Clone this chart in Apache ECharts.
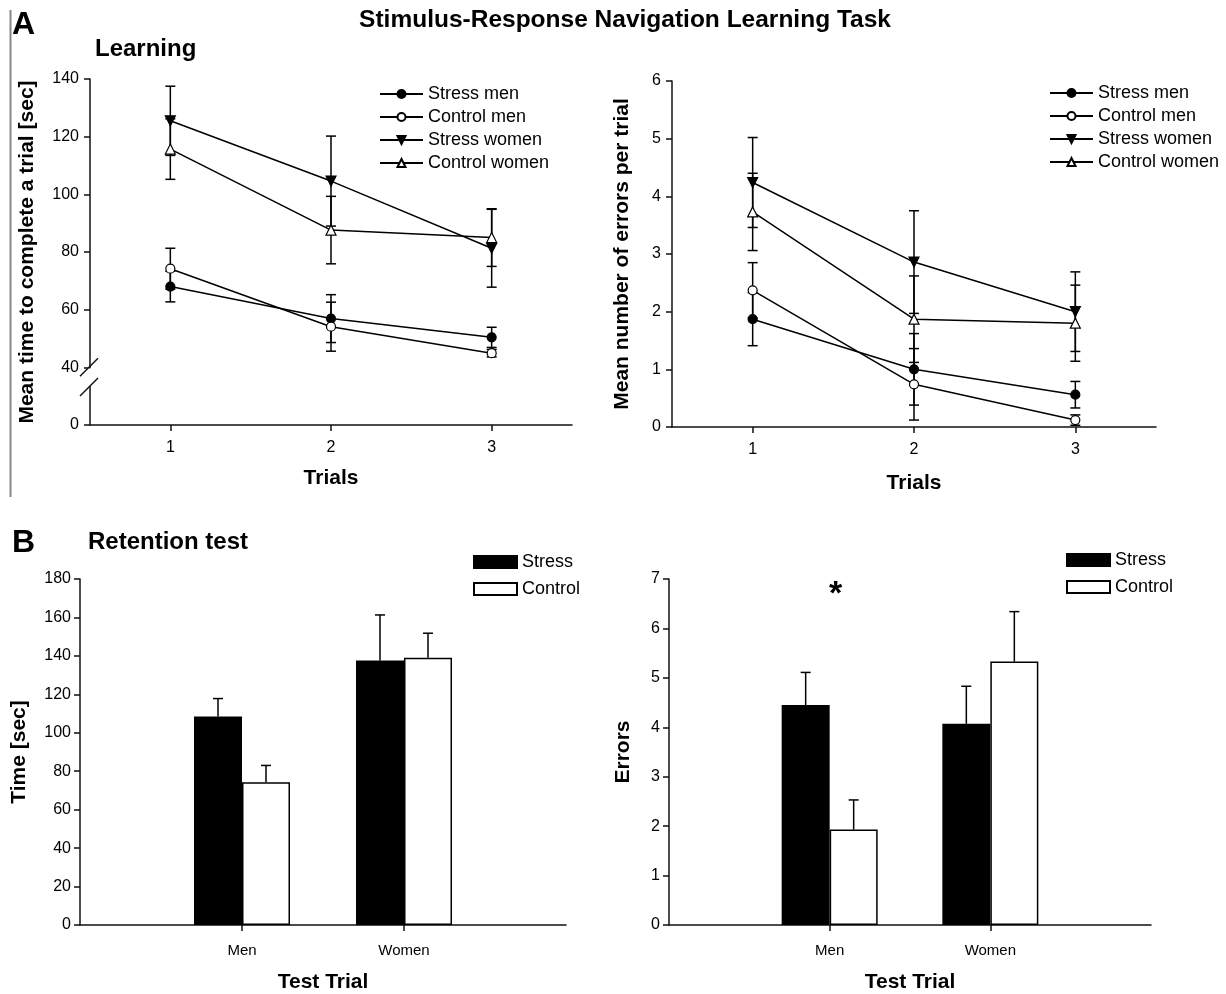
<!DOCTYPE html>
<html><head><meta charset="utf-8">
<script src="https://cdn.jsdelivr.net/npm/echarts@6/dist/echarts.min.js"></script>
<style>html,body{margin:0;padding:0;background:#fff}#c{width:1226px;height:994px}</style>
</head><body><div id="c"></div>
<script>
// ---------- data ----------
const trials = ['1', '2', '3'];
const lineNames = ['Stress men', 'Control men', 'Stress women', 'Control women'];

const timeStressMen = [68.0, 56.9, 50.4];
const timeStressMenErr = [5.3, 8.3, 3.5];
const timeControlMen = [74.2, 54.1, 44.9];
const timeControlMenErr = [7.1, 8.5, 1.3];
const timeStressWomen = [125.5, 104.6, 81.3];
const timeStressWomenErr = [12.0, 15.6, 13.5];
const timeControlWomen = [115.7, 87.6, 85.0];
const timeControlWomenErr = [10.5, 11.7, 10.0];

const errStressMen = [1.87, 1.00, 0.56];
const errStressMenErr = [0.46, 0.62, 0.23];
const errControlMen = [2.37, 0.74, 0.12];
const errControlMenErr = [0.48, 0.62, 0.09];
const errStressWomen = [4.24, 2.86, 2.00];
const errStressWomenErr = [0.78, 0.89, 0.69];
const errControlWomen = [3.73, 1.87, 1.80];
const errControlWomenErr = [0.67, 0.75, 0.66];

const groups = ['Men', 'Women'];
const barNames = ['Stress', 'Control'];
const retTimeStress = [108.5, 137.6];
const retTimeStressErr = [9.3, 23.7];
const retTimeControl = [74.2, 139.0];
const retTimeControlErr = [8.8, 12.8];
const retErrStress = [4.45, 4.07];
const retErrStressErr = [0.66, 0.76];
const retErrControl = [1.93, 5.33];
const retErrControlErr = [0.60, 1.01];
const retErrSignif = [['Men', 6.85]];

// broken time axis: lowest tick stands for 0
const timeTickValues = [20, 40, 60, 80, 100, 120, 140];
const timeTickLabels = ['0', '40', '60', '80', '100', '120', '140'];

// ---------- helpers ----------
const FONT = 'Liberation Sans, Arial, Helvetica, sans-serif';
const padCats = ['', ...groups, ''];
const pad = a => [null, ...a, null];

function lineSeries(name, data, xi, symbol, filled, rotate) {
  return {
    type: 'line', name, xAxisIndex: xi, yAxisIndex: xi, data,
    symbol, symbolSize: symbol === 'circle' ? 9 : 10, symbolRotate: rotate || 0,
    showSymbol: true, z: 4,
    lineStyle: { color: '#000', width: 1.5 },
    itemStyle: { color: filled ? '#000' : '#fff', borderColor: '#000', borderWidth: 1.2 }
  };
}
function errSeries(means, errs, xi, offset, both, idxShift) {
  return {
    type: 'custom', xAxisIndex: xi, yAxisIndex: xi, z: 3, silent: true,
    encode: { x: 0, y: 1 },
    data: means.map((m, i) => [i + idxShift, m, errs[i]]),
    renderItem(params, api) {
      const x = api.value(0), m = api.value(1), e = api.value(2);
      const top = api.coord([x, m + e]);
      const bot = api.coord([x, both ? m - e : m]);
      const cx = top[0] + offset, hw = 5;
      const st = { stroke: '#000', lineWidth: 1.5 };
      const ch = [
        { type: 'line', shape: { x1: cx, y1: top[1], x2: cx, y2: bot[1] }, style: st },
        { type: 'line', shape: { x1: cx - hw, y1: top[1], x2: cx + hw, y2: top[1] }, style: st }
      ];
      if (both) ch.push({ type: 'line', shape: { x1: cx - hw, y1: bot[1], x2: cx + hw, y2: bot[1] }, style: st });
      return { type: 'group', children: ch };
    }
  };
}
function barSeries(name, data, xi, filled) {
  return {
    type: 'bar', name, xAxisIndex: xi, yAxisIndex: xi, data: pad(data),
    barWidth: 48, barGap: '0%', z: 2,
    itemStyle: { color: filled ? '#000' : '#fff', borderColor: '#000', borderWidth: 1.5 }
  };
}

const axisLine = { show: true, lineStyle: { color: '#111', width: 1.5 } };
const axisTick = { show: true, length: 6, lineStyle: { color: '#111', width: 1.5 } };
const nameStyle = { fontSize: 21, fontWeight: 'bold', color: '#000', fontFamily: FONT };
const labStyle = (m, s) => ({ fontSize: s || 16, color: '#000', fontFamily: FONT, margin: m });

const grids = [
  { left: 90, top: 79, width: 482, height: 346 },
  { left: 672, top: 81, width: 484, height: 346 },
  { left: 80, top: 579, width: 486, height: 347 },
  { left: 669, top: 579, width: 482, height: 346 }
];

const xAxes = [
  { gridIndex: 0, type: 'category', data: trials, boundaryGap: true, axisLine, axisTick: { ...axisTick, alignWithLabel: true },
    axisLabel: labStyle(15), name: 'Trials', nameLocation: 'middle', nameGap: 43, nameTextStyle: nameStyle },
  { gridIndex: 1, type: 'category', data: trials, boundaryGap: true, axisLine, axisTick: { ...axisTick, alignWithLabel: true },
    axisLabel: labStyle(15), name: 'Trials', nameLocation: 'middle', nameGap: 46, nameTextStyle: nameStyle },
  { gridIndex: 2, type: 'category', data: padCats, boundaryGap: false, axisLine,
    axisTick: { ...axisTick, interval: (i) => i > 0 && i <= groups.length },
    axisLabel: { ...labStyle(18, 15), interval: 0 }, name: 'Test Trial', nameLocation: 'middle', nameGap: 47, nameTextStyle: nameStyle },
  { gridIndex: 3, type: 'category', data: padCats, boundaryGap: false, axisLine,
    axisTick: { ...axisTick, interval: (i) => i > 0 && i <= groups.length },
    axisLabel: { ...labStyle(18, 15), interval: 0 }, name: 'Test Trial', nameLocation: 'middle', nameGap: 47, nameTextStyle: nameStyle }
];
const yAxes = [
  { gridIndex: 0, type: 'value', min: 20, max: 140, interval: 20, axisLine, axisTick, splitLine: { show: false },
    axisLabel: { ...labStyle(11), formatter: v => { const k = timeTickValues.indexOf(v); return k < 0 ? '' : timeTickLabels[k]; } },
    name: 'Mean time to complete a trial [sec]', nameLocation: 'middle', nameGap: 52, nameTextStyle: nameStyle },
  { gridIndex: 1, type: 'value', min: 0, max: 6, interval: 1, axisLine, axisTick, splitLine: { show: false },
    axisLabel: labStyle(11), name: 'Mean number of errors per trial', nameLocation: 'middle', nameGap: 39, nameTextStyle: nameStyle },
  { gridIndex: 2, type: 'value', min: 0, max: 180, interval: 20, axisLine, axisTick, splitLine: { show: false },
    axisLabel: labStyle(9), name: 'Time [sec]', nameLocation: 'middle', nameGap: 50, nameTextStyle: nameStyle },
  { gridIndex: 3, type: 'value', min: 0, max: 7, interval: 1, axisLine, axisTick, splitLine: { show: false },
    axisLabel: labStyle(9), name: 'Errors', nameLocation: 'middle', nameGap: 35, nameTextStyle: nameStyle }
];

const series = [
  errSeries(timeStressMen, timeStressMenErr, 0, 0, true, 0),
  errSeries(timeControlMen, timeControlMenErr, 0, 0, true, 0),
  errSeries(timeStressWomen, timeStressWomenErr, 0, 0, true, 0),
  errSeries(timeControlWomen, timeControlWomenErr, 0, 0, true, 0),
  lineSeries(lineNames[0], timeStressMen, 0, 'circle', true),
  lineSeries(lineNames[1], timeControlMen, 0, 'circle', false),
  lineSeries(lineNames[2], timeStressWomen, 0, 'triangle', true, 180),
  lineSeries(lineNames[3], timeControlWomen, 0, 'triangle', false),

  errSeries(errStressMen, errStressMenErr, 1, 0, true, 0),
  errSeries(errControlMen, errControlMenErr, 1, 0, true, 0),
  errSeries(errStressWomen, errStressWomenErr, 1, 0, true, 0),
  errSeries(errControlWomen, errControlWomenErr, 1, 0, true, 0),
  lineSeries(lineNames[0], errStressMen, 1, 'circle', true),
  lineSeries(lineNames[1], errControlMen, 1, 'circle', false),
  lineSeries(lineNames[2], errStressWomen, 1, 'triangle', true, 180),
  lineSeries(lineNames[3], errControlWomen, 1, 'triangle', false),

  barSeries(barNames[0], retTimeStress, 2, true),
  barSeries(barNames[1], retTimeControl, 2, false),
  errSeries(retTimeStress, retTimeStressErr, 2, -24, false, 1),
  errSeries(retTimeControl, retTimeControlErr, 2, 24, false, 1),

  barSeries(barNames[0], retErrStress, 3, true),
  barSeries(barNames[1], retErrControl, 3, false),
  errSeries(retErrStress, retErrStressErr, 3, -24, false, 1),
  errSeries(retErrControl, retErrControlErr, 3, 24, false, 1),
  {
    type: 'scatter', xAxisIndex: 3, yAxisIndex: 3, data: retErrSignif, symbolSize: 1, silent: true, z: 5,
    itemStyle: { color: '#fff', opacity: 1 },
    label: { show: true, position: 'inside', formatter: '*', fontSize: 34, fontWeight: 'bold', color: '#000', opacity: 1, fontFamily: FONT, offset: [6, 8] }
  }
];

const legendBase = {
  orient: 'vertical', selectedMode: false, itemWidth: 43, itemTextGap: 11,
  textStyle: { fontSize: 18, color: '#000', fontFamily: FONT }
};
const legends = [
  { ...legendBase, left: 374, top: 80, itemHeight: 10, itemGap: 5, data: lineNames },
  { ...legendBase, left: 1044, top: 79, itemHeight: 10, itemGap: 5, data: lineNames },
  { ...legendBase, left: 468, top: 548, itemHeight: 12, itemGap: 9, icon: 'rect', data: barNames },
  { ...legendBase, left: 1061, top: 546, itemHeight: 12, itemGap: 9, icon: 'rect', data: barNames }
];

const chart = echarts.init(document.getElementById('c'), null, { renderer: 'canvas' });
chart.setOption({
  backgroundColor: '#fff', animation: false,
  grid: grids, xAxis: xAxes, yAxis: yAxes, series, legend: legends,
  textStyle: { fontFamily: FONT }
});

// decorations: panel labels, titles, axis-break marks
const y40 = chart.convertToPixel({ yAxisIndex: 0 }, 40);
const y20 = chart.convertToPixel({ yAxisIndex: 0 }, 20);
const ax = grids[0].left;
const s1 = y40, s2 = y40 + (y20 - y40) * 0.34;
const brk = { stroke: '#111', lineWidth: 1.5 };
const tstyle = (t, x, y, size, align) => ({ type: 'text', x, y, style: { text: t, font: 'bold ' + size + 'px ' + FONT, fill: '#000', align: align || 'left', verticalAlign: 'middle' } });
chart.setOption({
  graphic: [
    { type: 'line', shape: { x1: 10.5, y1: 10, x2: 10.5, y2: 497 }, style: { stroke: '#888', lineWidth: 2 } },
    tstyle('A', 12, 25, 32),
    tstyle('Stimulus-Response Navigation Learning Task', 625, 20, 24.5, 'center'),
    tstyle('Learning', 95, 49, 24),
    tstyle('B', 12, 543, 32),
    tstyle('Retention test', 88, 542, 24),
    { type: 'rect', shape: { x: ax - 3, y: s1 + 1, width: 6, height: s2 - s1 - 2 }, style: { fill: '#fff' }, z: 100 },
    { type: 'line', shape: { x1: ax - 10, y1: s1 + 9, x2: ax + 8, y2: s1 - 9 }, style: brk, z: 101 },
    { type: 'line', shape: { x1: ax - 10, y1: s2 + 9, x2: ax + 8, y2: s2 - 9 }, style: brk, z: 101 }
  ]
});
</script>
</body></html>
